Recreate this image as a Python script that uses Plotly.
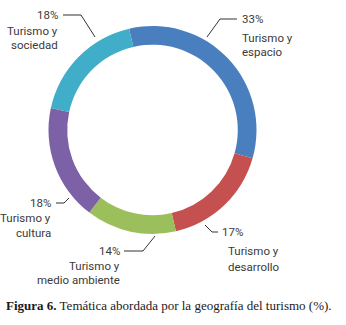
import plotly.graph_objects as go

# ---- data ----
categories = ["Turismo y espacio", "Turismo y desarrollo", "Turismo y medio ambiente",
              "Turismo y cultura", "Turismo y sociedad"]
values = [33, 17, 14, 18, 18]
label_lines = [["Turismo y", "espacio"], ["Turismo y", "desarrollo"],
               ["Turismo y", "medio ambiente"], ["Turismo y", "cultura"],
               ["Turismo y", "sociedad"]]
colors = ["#4A7FBF", "#C4514F", "#9BBF5A", "#7D61A6", "#40AEC8"]
caption_bold = "Figura 6."
caption_text = " Temática abordada por la geografía del turismo (%)."

W, H = 346, 325
def px(x): return x / W
def py(y): return 1 - y / H

cx, cy, r = 152.5, 130, 104

fig = go.Figure(go.Pie(
    labels=categories, values=values, marker=dict(colors=colors, line=dict(width=0)),
    hole=0.82, sort=False, direction="clockwise", rotation=-13,
    textinfo="none", hoverinfo="skip", showlegend=False,
    domain=dict(x=[px(cx - r), px(cx + r)], y=[py(cy + r), py(cy - r)]),
))

# label layout: anchor x, side, y of each text line, leader polyline
label_layout = [
    dict(x=240, side="left", ys=[19, 38, 52], line=[(207, 37), (220, 19), (237, 19)]),
    dict(x=220, side="left", ys=[232, 251, 267], line=[(205, 225), (212, 232), (218, 232)], xname=226),
    dict(x=122, side="right", ys=[251, 266, 280], line=[(155, 236), (143, 251), (124, 251)]),
    dict(x=53, side="right", ys=[203, 218, 233], line=[(69, 198), (64, 203), (56, 203)]),
    dict(x=60, side="right", ys=[15, 31, 45], line=[(95, 37), (81, 15), (63, 15)]),
]

font_lbl = dict(family="Liberation Sans Narrow, Roboto, Liberation Sans, sans-serif",
                size=11.5, color="#3a3a3a")
annotations = []
shapes = []
for v, lines, lay in zip(values, label_lines, label_layout):
    texts = [f"{v}%"] + lines
    for i, (t, y) in enumerate(zip(texts, lay["ys"])):
        x = lay["x"] if i == 0 else lay.get("xname", lay["x"])
        annotations.append(dict(text=t, x=px(x), y=py(y), xref="paper", yref="paper",
                                xanchor=lay["side"], yanchor="middle", showarrow=False,
                                font=font_lbl))
    pts = lay["line"]
    path = "M " + " L ".join(f"{px(a)},{py(b)}" for a, b in pts)
    shapes.append(dict(type="path", path=path, xref="paper", yref="paper",
                       line=dict(color="#333333", width=1)))

annotations.append(dict(text=f"<b>{caption_bold}</b>{caption_text}", x=px(4), y=py(305),
                        xref="paper", yref="paper", xanchor="left", yanchor="middle",
                        showarrow=False,
                        font=dict(family="Liberation Serif, DejaVu Serif, serif", size=13,
                                  color="#1a1a1a")))

fig.update_layout(width=W, height=H, margin=dict(l=0, r=0, t=0, b=0),
                  paper_bgcolor="white", plot_bgcolor="white",
                  annotations=annotations, shapes=shapes)
fig.write_html("out.html", config={"displayModeBar": False},
               post_script="document.body.style.margin='0px';")
